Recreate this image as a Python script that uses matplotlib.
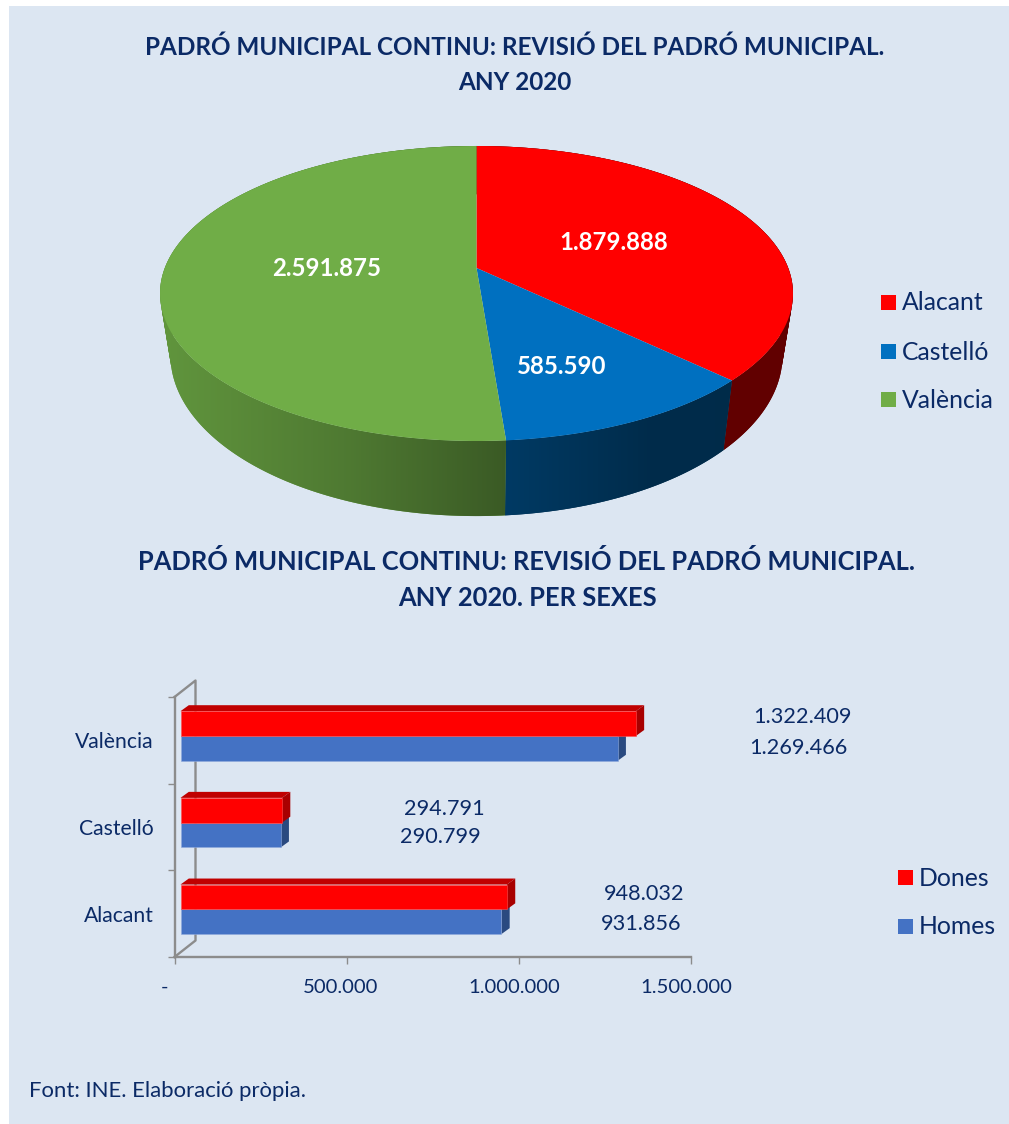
"""Padró municipal 2020: 3D-style pie (provinces) and 3D-style bars (by sex)."""
import numpy as np
import matplotlib
matplotlib.use("Agg")
import matplotlib.pyplot as plt
from matplotlib.patches import PathPatch, Polygon, Rectangle
from matplotlib.path import Path
from matplotlib.transforms import ScaledTranslation

plt.rcParams["font.family"] = ["Lato", "DejaVu Sans"]

# ── data ──
PROVINCES = ["Alacant", "Castelló", "València"]
TOTALS = [1879888, 585590, 2591875]
PIE_COLORS = ["#ff0000", "#0070c0", "#70ad47"]

WOMEN = [948032, 294791, 1322409]
MEN = [931856, 290799, 1269466]
SEXES = ["Dones", "Homes"]
X_TICKS = [0, 500000, 1000000, 1500000]
X_TICK_LABELS = ["-", "500.000", "1.000.000", "1.500.000"]

PANEL = "#dce6f2"
NAVY = "#0b2a66"
W, H = 1009, 1124


def fmt(v):
    return f"{v:,}".replace(",", ".")


def top_rim(theta):
    # perspective-projected circle, theta clockwise from 12 o'clock
    d = 1 + 0.1729 * np.cos(theta)
    return 476.5 + 311.7 * np.sin(theta) / d, 268 - 143.1 * np.cos(theta) / d


def bottom_rim(theta):
    x, y = top_rim(theta)
    return 476.5 + 0.967 * (x - 476.5), 327.3 + 1.091 * (y - 268)


def shade(color, x):
    f = np.interp(x, [165, 350, 507, 650, 790], [0.86, 0.70, 0.52, 0.39, 0.38])
    return np.outer(f, matplotlib.colors.to_rgb(color))


def side_path(start, stop):
    # the side wall swept between both rims, as quads of one orientation
    th = np.linspace(start, stop, 240)
    xt, yt = top_rim(th)
    xb, yb = bottom_rim(th)
    quads = []
    for i in range(len(th) - 1):
        q = np.array([(xt[i], yt[i]), (xt[i + 1], yt[i + 1]),
                      (xb[i + 1], yb[i + 1]), (xb[i], yb[i])])
        x, y = q[:, 0], q[:, 1]
        if np.dot(x, np.roll(y, -1)) - np.dot(y, np.roll(x, -1)) < 0:
            q = q[::-1]
        quads.append(Path(np.vstack([q, q[0]]), closed=True))
    return Path.make_compound_path(*quads)


fig = plt.figure(figsize=(W / 100, H / 100), dpi=100, facecolor="white")

# full figure overlay in pixel coordinates
bg = fig.add_axes([0, 0, 1, 1])
bg.axis("off")
bg.add_patch(Rectangle((8.5, 5.5), W, H, fc=PANEL, ec="none"))


def label(x, y, s, size, color=NAVY, weight="normal", ha="center"):
    bg.text(x, y, s, fontsize=size, color=color, fontweight=weight,
            ha=ha, va="center", zorder=5)


# ── titles ──
label(515, 47, "PADRÓ MUNICIPAL CONTINU: REVISIÓ DEL PADRÓ MUNICIPAL.", 17.5, weight="bold")
label(515, 82, "ANY 2020", 17.5, weight="bold")
label(527, 562, "PADRÓ MUNICIPAL CONTINU: REVISIÓ DEL PADRÓ MUNICIPAL.", 18.4, weight="bold")
label(527, 598, "ANY 2020. PER SEXES", 18.4, weight="bold")

# ── pie ──
edges = np.concatenate([[0], np.cumsum(TOTALS)]) / sum(TOTALS) * 2 * np.pi
xgrid = np.arange(150, 800)
for start, stop, color in zip(edges[:-1], edges[1:], PIE_COLORS):
    path = side_path(start, stop)
    # soft outline underneath, gradient clipped to the side face on top
    mid = shade(color, np.array([top_rim((start + stop) / 2)[0]]))[0]
    bg.add_patch(PathPatch(path, fc=mid, ec="none", zorder=2))
    img = bg.imshow(shade(color, xgrid)[np.newaxis, :, :], aspect="auto",
                    extent=(150, 800, 530, 140), interpolation="bilinear", zorder=2.5)
    img.set_clip_path(path, bg.transData)
bg.set_xlim(0, W)
bg.set_ylim(H, 0)

for start, stop, color in zip(edges[:-1], edges[1:], PIE_COLORS):
    th = np.linspace(start, stop, 200)
    xs, ys = top_rim(th)
    pts = np.column_stack([np.r_[476.5, xs], np.r_[268, ys]])
    bg.add_patch(Polygon(pts, fc=color, ec="none", zorder=3))

for (x, y), v in zip([(614, 241), (562, 365), (327, 268)], TOTALS):
    label(x, y + 1, fmt(v), 17.3, color="white", weight="bold")

for y, name, color in zip([302, 351, 399], PROVINCES, PIE_COLORS):
    bg.add_patch(Rectangle((881, y - 7), 15, 15, fc=color, ec="none"))
    label(902, y + 1, name, 17.8, ha="left")

# ── bars ──
px = 1500000 / 516.5   # value units per pixel
py = 3 / 260.0         # category units per pixel
ax = fig.add_axes([174.5 / W, 1 - 957 / H, 516.5 / W, 260 / H], facecolor="none")
ax.set_xlim(0, 1500000)
ax.set_ylim(0, 3)

dx_wall, dy_wall = 21 * px, 16.5 * py
wall = np.array([(0, 3), (dx_wall, 3 + dy_wall), (dx_wall, dy_wall), (0, 0)])
ax.plot(wall[:, 0], wall[:, 1], color="#8c8c8c", lw=1.7, clip_on=False, zorder=1)

y_pos = np.arange(len(PROVINCES)) + 0.55
bar_h = 24.8 * py
left = 6 * px
dx, dy = 8.3 * px, 6 * py

for y, m, f in zip(y_pos, MEN, WOMEN):
    # side faces first, the front faces go on top
    ax.add_patch(Polygon([(left + m, y), (left + m + dx, y + dy),
                          (left + m + dx, y - bar_h + dy), (left + m, y - bar_h)],
                         fc="#2a4a80", ec="none", zorder=2, clip_on=False))
    ax.add_patch(Polygon([(left, y + bar_h), (left + dx, y + bar_h + dy),
                          (left + f + dx, y + bar_h + dy), (left + f, y + bar_h)],
                         fc="#c00000", ec="none", zorder=2, clip_on=False))
    ax.add_patch(Polygon([(left + f, y), (left + f + dx, y + dy),
                          (left + f + dx, y + bar_h + dy), (left + f, y + bar_h)],
                         fc="#a80000", ec="none", zorder=2, clip_on=False))
ax.barh(y_pos - bar_h / 2, MEN, height=bar_h, left=left, color="#4472c4",
        edgecolor="#8faadc", linewidth=0.4, zorder=3)
ax.barh(y_pos + bar_h / 2, WOMEN, height=bar_h, left=left, color="#ff0000",
        edgecolor="#ff5050", linewidth=0.4, zorder=3)

for side_name in ["top", "right"]:
    ax.spines[side_name].set_visible(False)
for side_name in ["left", "bottom"]:
    ax.spines[side_name].set_color("#8c8c8c")
    ax.spines[side_name].set_linewidth(1.7)

ax.set_yticks([0, 1, 2, 3])
ax.set_yticklabels([])
ax.set_yticks(np.arange(len(PROVINCES)) + 0.5, PROVINCES, minor=True)
ax.tick_params(axis="y", which="major", length=5, width=1, color="#8c8c8c")
ax.tick_params(axis="y", which="minor", length=0, pad=15, labelsize=15.2, labelcolor=NAVY)
ax.set_xticks(X_TICKS, X_TICK_LABELS)
ax.tick_params(axis="x", length=5, width=1, color="#8c8c8c", pad=11,
               labelsize=14.6, labelcolor=NAVY)
for lbl, shift in zip(ax.get_xticklabels(), [-10, -6, -5, -5]):
    lbl.set_transform(lbl.get_transform()
                      + ScaledTranslation(shift / 100, 0, fig.dpi_scale_trans))

label_xy = [(644, 894), (444, 809), (802, 717)]
for (x, y), v in zip(label_xy, WOMEN):
    label(x, y, fmt(v), 15.6)
label_xy = [(641, 924), (440, 837), (798, 748)]
for (x, y), v in zip(label_xy, MEN):
    label(x, y, fmt(v), 15.6)

for y, name, color in zip([877, 926], SEXES, ["#ff0000", "#4472c4"]):
    bg.add_patch(Rectangle((898, y - 7), 15, 15, fc=color, ec="none"))
    label(919, y + 1, name, 17.8, ha="left")

label(29, 1091, "Font: INE. Elaboració pròpia.", 15.9, ha="left")

fig.savefig("out.png", dpi=100)
